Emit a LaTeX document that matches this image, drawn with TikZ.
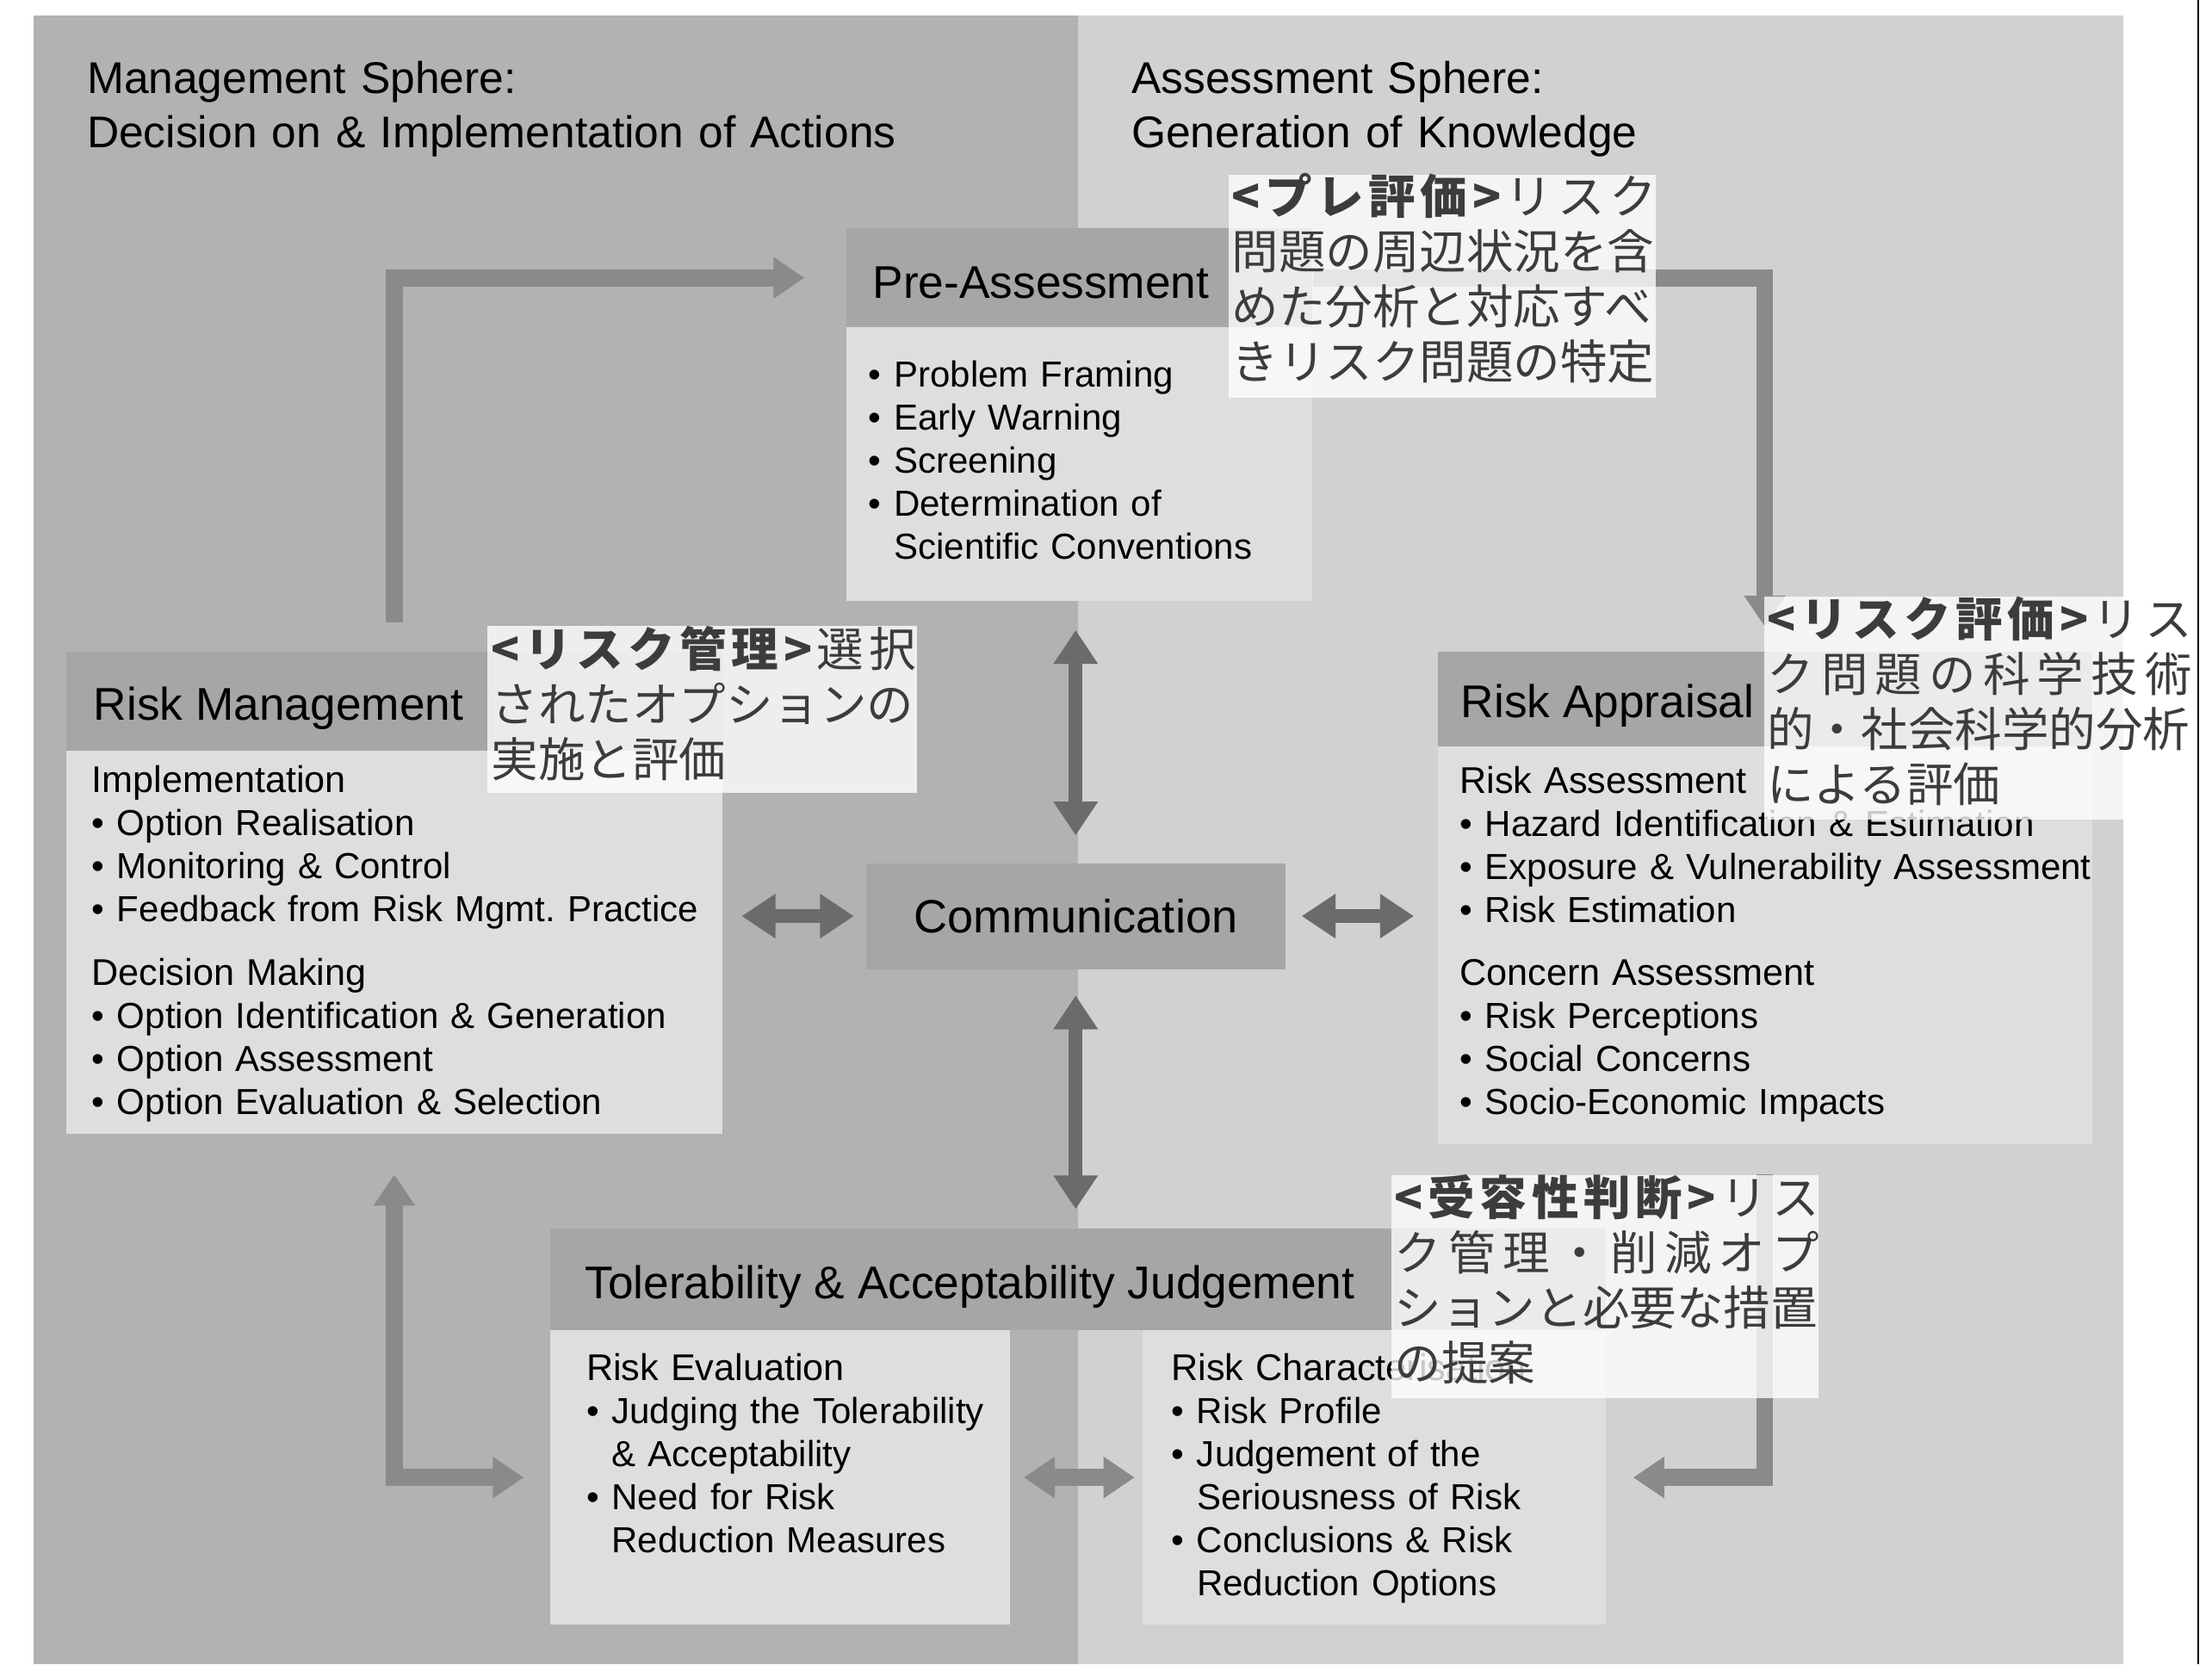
\documentclass[tikz,border=0pt]{standalone}
\usepackage{fontspec}
\setmainfont{Liberation Sans}
\newfontfamily\jpfont{Noto Sans CJK JP}
\usetikzlibrary{arrows.meta}
\usetikzlibrary{fit}
\usetikzlibrary{calc}
\frenchspacing

\definecolor{mgmtgray}{HTML}{B2B2B2}
\definecolor{assessgray}{HTML}{D1D1D1}
\definecolor{headgray}{HTML}{A6A6A6}
\definecolor{bodygray}{HTML}{DEDEDE}
\definecolor{procgray}{HTML}{8A8A8A}
\definecolor{comgray}{HTML}{6B6B6B}
\definecolor{notetext}{HTML}{3C3C3C}

\newcommand{\bul}{\makebox[1.8mm][l]{•}}
\newcommand{\indt}{\hspace*{1.8mm}}
\newcommand{\subhd}[1]{{\fontsize{7.5}{8.68}\selectfont #1}}
\newcommand{\spread}[1]{\makebox[\linewidth][s]{#1}}

\tikzset{
  hdr/.style={fill=headgray, inner sep=0},
  bodybox/.style={fill=bodygray, inner sep=0},
  headtxt/.style={font=\fontsize{9.25}{11}\selectfont, inner sep=0, anchor=base west},
  titletxt/.style={font=\fontsize{8.95}{10.81}\selectfont, text width=62mm, align=left, inner sep=0, anchor=base west},
  listtxt/.style={font=\fontsize{7.3}{8.68}\selectfont, align=left, inner sep=0, anchor=base west},
  procarrow/.style={draw=procgray, line width=1.2mm, >={Triangle[length=2.2mm,width=2.8mm]}},
  comarrow/.style={draw=comgray, line width=1.0mm, >={Triangle[length=2.4mm,width=3mm]}},
  notebox/.style={fill=white, fill opacity=0.78, inner sep=0},
  notetxt/.style={font=\jpfont\fontsize{9.47}{11.1}\selectfont, text=notetext, text width=30.1mm, align=left, inner sep=0, anchor=base west}
}

\begin{document}
\begin{tikzpicture}[x=0.1mm,y=-0.1mm]
  \useasboundingbox (0,0) rectangle (1568,1180);
  \fill[white] (0,0) rectangle (1568,1180);

  % the two spheres
  \fill[mgmtgray] (24,11) rectangle (764,1180);
  \fill[assessgray] (764,11) rectangle (1505,1180);
  \node[titletxt] (mgmtTitle) at (61,66.5) {Management Sphere:\\Decision on \& Implementation of Actions};
  \node[titletxt] (assessTitle) at (801.4,66.5) {Assessment Sphere:\\Generation of Knowledge};

  % boxes
  \node[bodybox, fit={(600,232) (930,426)}] (preB) {};
  \node[hdr, fit={(600,162) (930,232)}] (preH) {};
  \node[bodybox, fit={(47,532) (512,804)}] (rmB) {};
  \node[hdr, fit={(47,462) (512,532)}] (rmH) {};
  \node[bodybox, fit={(1019,529) (1483,811)}] (raB) {};
  \node[hdr, fit={(1019,462) (1483,529)}] (raH) {};
  \node[hdr, minimum width=29.7mm, minimum height=7.5mm, font=\fontsize{9.4}{11}\selectfont] (comm) at (762.5,649.5) {Communication};
  \node[hdr, fit={(390,871) (1138,943)}] (tolH) {};
  \node[bodybox, fit={(390,943) (716,1152)}] (reB) {};
  \node[bodybox, fit={(810,943) (1138,1152)}] (rcB) {};

  % process arrows
  \draw[procarrow, ->, shorten <=2mm, shorten >=2.9mm] (rmH.north) |- (preH.west);
  \draw[procarrow, ->, shorten >=1.7mm] (preH.east) -| (raH.north);
  \draw[procarrow, ->, shorten <=2.1mm, shorten >=1.9mm] (raB.south) |- (rcB.east);
  \draw[procarrow, <->, shorten <=2.8mm, shorten >=1.8mm] (rmB.south) |- (reB.west);
  \draw[procarrow, <->, shorten <=0.9mm, shorten >=0.5mm] (reB.east) -- (rcB.west);

  % communication arrows
  \draw[comarrow, <->, shorten <=1.9mm, shorten >=2mm] (comm.north) -- (comm.north |- preB.south);
  \draw[comarrow, <->, shorten <=1.8mm, shorten >=1.3mm] (comm.south) -- (comm.south |- tolH.north);
  \draw[comarrow, <->, shorten <=0.8mm, shorten >=1.3mm] (comm.west) -- (comm.west -| rmB.east);
  \draw[comarrow, <->, shorten <=1.1mm, shorten >=1.6mm] (comm.east) -- (comm.east -| raB.west);

  % headings and lists
  \node[headtxt] (preT) at (618,211.7) {Pre-Assessment};
  \node[headtxt] (rmT) at (65.8,510.4) {Risk Management};
  \node[headtxt] (raT) at (1035,509) {Risk Appraisal};
  \node[headtxt] (tolT) at (414,920.5) {Tolerability \& Acceptability Judgement};

  \node[listtxt, text width=30mm] (preL) at (615,274.4) {\bul Problem Framing\\\bul Early Warning\\\bul Screening\\\bul Determination of\\\indt Scientific Conventions};
  \node[listtxt, text width=45mm] (rmL) at (64.3,562) {\subhd{Implementation}\\\bul Option Realisation\\\bul Monitoring \& Control\\\bul Feedback from Risk Mgmt. Practice\\[1.45mm]\subhd{Decision Making}\\\bul Option Identification \& Generation\\\bul Option Assessment\\\bul Option Evaluation \& Selection};
  \node[listtxt, text width=50mm] (raL) at (1034,562.2) {\subhd{Risk Assessment}\\\bul Hazard Identification \& Estimation\\\bul Exposure \& Vulnerability Assessment\\\bul Risk Estimation\\[1.45mm]\subhd{Concern Assessment}\\\bul Risk Perceptions\\\bul Social Concerns\\\bul Socio-Economic Impacts};
  \node[listtxt, text width=29mm] (reL) at (415,978.6) {\subhd{Risk Evaluation}\\\bul Judging the Tolerability\\\indt\& Acceptability\\\bul Need for Risk\\\indt Reduction Measures};
  \node[listtxt, text width=29mm] (rcL) at (829.7,978.6) {\subhd{Risk Characterisation}\\\bul Risk Profile\\\bul Judgement of the\\\indt Seriousness of Risk\\\bul Conclusions \& Risk\\\indt Reduction Options};

  % japanese notes
  \node[notebox, fit={(870.7,124) (1174,281.7)}] (preN) {};
  \node[notetxt] (preNT) at (872.5,151.8) {\spread{{\bfseries <\hfil プ\hfil レ\hfil 評\hfil 価\hfil >}\hfil リ\hfil ス\hfil ク}\\問題の周辺状況を含\\めた分析と対応すべ\\きリスク問題の特定};
  \node[notebox, fit={(345.6,444) (650.3,562)}] (rmN) {};
  \node[notetxt] (rmNT) at (347.5,472.6) {\spread{{\bfseries <\hfil リ\hfil ス\hfil ク\hfil 管\hfil 理\hfil >}\hfil 選\hfil 択}\\されたオプションの\\実施と評価};
  \node[notebox, fit={(1250.6,423) (1558,581)}] (raN) {};
  \node[notetxt] (raNT) at (1252,451.6) {\spread{{\bfseries <\hfil リ\hfil ス\hfil ク\hfil 評\hfil 価\hfil >}\hfil リ\hfil ス}\\\spread{ク\hfil 問\hfil 題\hfil の\hfil 科\hfil 学\hfil 技\hfil 術}\\的・社会科学的分析\\による評価};
  \node[notebox, fit={(986.3,833.4) (1289,991)}] (tolN) {};
  \node[notetxt] (tolNT) at (988,861.6) {\spread{{\bfseries <\hfil 受\hfil 容\hfil 性\hfil 判\hfil 断\hfil >}\hfil リ\hfil ス}\\\spread{ク\hfil 管\hfil 理\hfil ・\hfil 削\hfil 減\hfil オ\hfil プ}\\ションと必要な措置\\の提案};

  % frame line on the right
  \draw[line width=0.13mm] (1558,0) -- (1558,1180);
\end{tikzpicture}
\end{document}
